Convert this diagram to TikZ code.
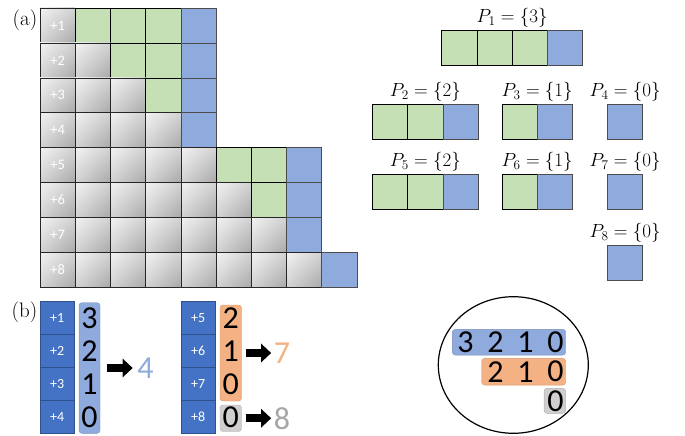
\RequirePackage{fix-cm}
\documentclass[tikz,border=0pt]{standalone}
\usepackage{fontspec}
\newfontfamily\calfont{Carlito}
\usetikzlibrary{arrows.meta, positioning, shapes.geometric, shadings}
\definecolor{cellgreen}{RGB}{197,224,180}
\definecolor{cellblue}{RGB}{143,170,220}
\definecolor{darkblue}{RGB}{68,114,196}
\definecolor{darkblueline}{RGB}{47,82,143}
\definecolor{sumorange}{RGB}{244,177,131}
\definecolor{sumgray}{RGB}{208,206,206}
\definecolor{numgray}{RGB}{166,166,166}

\begin{document}
\begin{tikzpicture}[x=1pt, y=-1pt,
    cell/.style={rectangle, draw=black, line width=0.6pt, minimum width=35.2pt, minimum height=34.9pt, inner sep=0pt},
    greencell/.style={cell, fill=cellgreen},
    bluecell/.style={cell, fill=cellblue, draw=black!70},
    graycell/.style={cell, draw=black!85, upper left=gray!10, upper right=gray!35, lower left=gray!35, lower right=gray!68},
    labelcell/.style={graycell, text=white, font=\calfont\fontsize{14.5}{16}\selectfont},
    darkcell/.style={rectangle, draw=darkblueline, fill=darkblue, line width=0.6pt, minimum width=34.5pt, minimum height=32.9pt, inner sep=0pt, text=white, font=\calfont\fontsize{14}{16}\selectfont},
    sumbox/.style={rectangle, rounded corners=3pt, draw=#1!85!black, fill=#1, line width=0.4pt, inner sep=0pt},
    digit/.style={inner sep=0pt, font=\calfont\fontsize{32}{34}\selectfont},
    setlabel/.style={anchor=south, inner sep=1.5pt, font=\fontsize{19}{22}\selectfont},
    partlabel/.style={font=\fontsize{21}{24}\selectfont},
    fatarrow/.style={-{Triangle[length=10pt, width=18pt]}, line width=8pt, black}
]
    \useasboundingbox (0,0) rectangle (685,436);

    % (a) staircase grid
    \node[partlabel] (la) at (25,20) {(a)};
    \foreach \row/\last in {1/4,2/4,3/4,4/4,5/7,6/7,7/7,8/8} {
        \node[labelcell] (a\row-0) at (57.6, {8+34.9*\row-17.45}) {+\row};
        \foreach \c in {1,...,\last} {
            \ifnum\c<\row
                \node[graycell] (a\row-\c) at ({57.6+35.2*\c}, {8+34.9*\row-17.45}) {};
            \else\ifnum\c<\last
                \node[greencell] (a\row-\c) at ({57.6+35.2*\c}, {8+34.9*\row-17.45}) {};
            \else
                \node[bluecell] (a\row-\c) at ({57.6+35.2*\c}, {8+34.9*\row-17.45}) {};
            \fi\fi
        }
    }

    % the sets P_1 ... P_8
    \foreach \setno/\px/\py/\g/\val in {1/441.7/30/3/3, 2/372.5/104.3/2/2, 3/502/104.3/1/1, 4/607.5/104.3/0/0,
                                        5/372.5/174/2/2, 6/502/174/1/1, 7/607.5/174/0/0, 8/607.5/245/0/0} {
        \foreach \k in {0,...,\g} {
            \ifnum\k<\g
                \node[greencell, minimum height=35pt] (p\setno-\k) at ({\px+35.2*\k+17.6}, {\py+17.5}) {};
            \else
                \node[bluecell, minimum height=35pt] (p\setno-\k) at ({\px+35.2*\k+17.6}, {\py+17.5}) {};
            \fi
        }
        \node[setlabel] (lp\setno) at ({\px+(\g+1)*17.6}, {\py-1}) {$P_{\setno}=\{\val\}$};
    }

    % (b) counting
    \node[partlabel] (lb) at (24.5,312) {(b)};
    \foreach \i in {1,...,4}
        \node[darkcell] (b\i) at (57.25, {301.7+32.9*\i-16.45}) {+\i};
    \foreach \i in {5,...,8}
        \node[darkcell] (b\i) at (198.2, {301.7+32.9*(\i-4)-16.45}) {+\i};

    \node[sumbox=cellblue, minimum width=21pt, minimum height=130.6pt] (sumA) at (89.5,368) {};
    \node[sumbox=sumorange, minimum width=21.5pt, minimum height=96pt] (sumB) at (230.75,353) {};
    \node[sumbox=sumgray, minimum width=21.5pt, minimum height=26.5pt] (sumC) at (230.75,418.25) {};
    \foreach \dg [count=\i] in {3,2,1,0}
        \node[digit] (dA\i) at (89.5, {301.7+32.9*\i-16.45}) {\dg};
    \foreach \dg [count=\i] in {2,1,0,0}
        \node[digit] (dB\i) at (230.75, {301.7+32.9*\i-16.45}) {\dg};

    \node[digit, text=cellblue] (resA) at (145.5,368) {4};
    \node[digit, text=sumorange] (resB) at (282,353) {7};
    \node[digit, text=numgray] (resC) at (282,418.25) {8};
    \draw[fatarrow, shorten <=7pt, shorten >=4.5pt] (sumA) -- (resA);
    \draw[fatarrow, shorten <=4pt, shorten >=2.5pt] (sumB) -- (resB);
    \draw[fatarrow, shorten <=4pt, shorten >=2.5pt] (sumC) -- (resC);

    % pooled counts
    \node[draw, ellipse, line width=1.2pt, minimum width=150pt, minimum height=136.6pt, inner sep=0pt] (pool) at (513.3,365) {};
    \node[sumbox=cellblue, minimum width=113.4pt, minimum height=25.7pt] (rowA) at (509,342.2) {};
    \node[sumbox=sumorange, minimum width=84pt, minimum height=26.7pt] (rowB) at (523.7,371.7) {};
    \node[sumbox=sumgray, minimum width=21.7pt, minimum height=25pt] (rowC) at (554.9,400.8) {};
    \foreach \dg/\dx in {3/465.5, 2/495.5, 1/525.5, 0/555.5}
        \node[digit] (cA\dg) at (\dx,342.2) {\dg};
    \foreach \dg/\dx in {2/495.5, 1/525.5, 0/555.5}
        \node[digit] (cB\dg) at (\dx,371.7) {\dg};
    \node[digit] (cC0) at (555.5,400.8) {0};
\end{tikzpicture}
\end{document}
